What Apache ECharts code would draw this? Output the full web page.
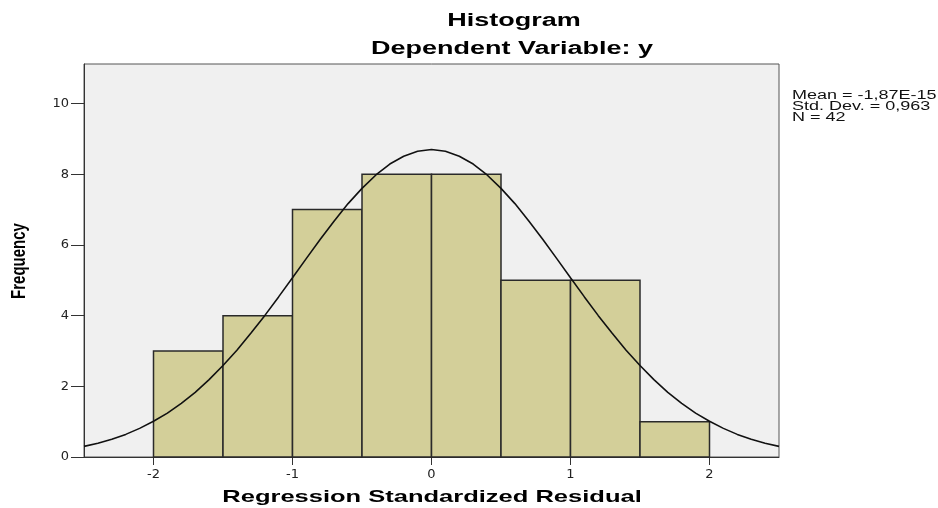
<!DOCTYPE html>
<html>
<head>
<meta charset="utf-8">
<script src="https://cdn.jsdelivr.net/npm/echarts@6/dist/echarts.min.js"></script>
<style>
html,body{margin:0;padding:0;background:#fff;}
#chart{width:938px;height:508px;}
</style>
</head>
<body>
<div id="chart"></div>
<script>
// Histogram bins: [start, end, frequency]
var binStarts = [-2.0, -1.5, -1.0, -0.5, 0.0, 0.5, 1.0, 1.5];
var binEnds   = [-1.5, -1.0, -0.5, 0.0, 0.5, 1.0, 1.5, 2.0];
var frequencies = [3, 4, 7, 8, 8, 5, 5, 1];

// Normal curve
var curveX = [-2.5, -2.4, -2.3, -2.2, -2.1, -2.0, -1.9, -1.8, -1.7, -1.6, -1.5, -1.4, -1.3,
              -1.2, -1.1, -1.0, -0.9, -0.8, -0.7, -0.6, -0.5, -0.4, -0.3, -0.2, -0.1, 0.0,
              0.1, 0.2, 0.3, 0.4, 0.5, 0.6, 0.7, 0.8, 0.9, 1.0, 1.1, 1.2, 1.3, 1.4, 1.5,
              1.6, 1.7, 1.8, 1.9, 2.0, 2.1, 2.2, 2.3, 2.4, 2.5];
var curveY = [0.30, 0.39, 0.50, 0.64, 0.81, 1.01, 1.24, 1.52, 1.83, 2.19, 2.59, 3.02, 3.50,
              4.00, 4.53, 5.07, 5.62, 6.16, 6.68, 7.17, 7.60, 7.98, 8.29, 8.51, 8.65, 8.70,
              8.65, 8.51, 8.29, 7.98, 7.60, 7.17, 6.68, 6.16, 5.62, 5.07, 4.53, 4.00, 3.50, 3.02, 2.59,
              2.19, 1.83, 1.52, 1.24, 1.01, 0.81, 0.64, 0.50, 0.39, 0.30];

var xTicks = [-2, -1, 0, 1, 2];
var yTicks = [0, 2, 4, 6, 8, 10];

var titleText = 'Histogram';
var subtitleText = 'Dependent Variable: y';
var xName = 'Regression Standardized Residual';
var yName = 'Frequency';
var statsLines = ['Mean = -1,87E-15', 'Std. Dev. = 0,963', 'N = 42'];

var bins = binStarts.map(function (s, i) { return [s, binEnds[i], frequencies[i]]; });
var curve = curveX.map(function (x, i) { return [x, curveY[i]]; });

var chart = echarts.init(document.getElementById('chart'), null, {renderer: 'canvas'});

var STRETCH = 1.5;
var graphics = [
  {type: 'text', x: 514, y: 21, scaleX: STRETCH, style: {text: titleText, font: 'bold 18px "Liberation Sans", Arial, sans-serif', fill: '#000', align: 'center', verticalAlign: 'middle'}},
  {type: 'text', x: 512, y: 49, scaleX: STRETCH, style: {text: subtitleText, font: 'bold 18px "Liberation Sans", Arial, sans-serif', fill: '#000', align: 'center', verticalAlign: 'middle'}},
  {type: 'text', x: 432, y: 497, scaleX: STRETCH, style: {text: xName, font: 'bold 17px "Liberation Sans", Arial, sans-serif', fill: '#000', align: 'center', verticalAlign: 'middle'}},
  {type: 'text', x: 20, y: 261, rotation: Math.PI / 2, scaleY: 1.3, style: {text: yName, font: 'bold 15px "Liberation Sans", Arial, sans-serif', fill: '#000', align: 'center', verticalAlign: 'middle'}}
];
statsLines.forEach(function (t, i) {
  graphics.push({type: 'text', x: 792, y: 96 + i * 11, scaleX: STRETCH,
    style: {text: t, font: '12px "Liberation Sans", Arial, sans-serif', fill: '#111', align: 'left', verticalAlign: 'middle'}});
});

var option = {
  animation: false,
  backgroundColor: '#ffffff',
  grid: {
    left: 84, right: 159, top: 64, bottom: 51,
    show: true, backgroundColor: '#f0f0f0', borderColor: '#555', borderWidth: 1
  },
  xAxis: {
    type: 'value', min: -2.5, max: 2.5,
    splitLine: {show: false},
    axisLine: {show: true, onZero: false, lineStyle: {color: '#333', width: 1}},
    axisTick: {show: true, length: 8, customValues: xTicks, lineStyle: {color: '#333'}},
    axisLabel: {show: true, customValues: xTicks, margin: 11, color: '#222', fontSize: 13, fontFamily: '"DejaVu Sans", sans-serif'}
  },
  yAxis: {
    type: 'value', min: 0, max: 11.12,
    splitLine: {show: false},
    axisLine: {show: true, onZero: false, lineStyle: {color: '#333', width: 1}},
    axisTick: {show: true, length: 13, customValues: yTicks, lineStyle: {color: '#333'}},
    axisLabel: {show: true, customValues: yTicks, margin: 15, color: '#222', fontSize: 13, fontFamily: '"DejaVu Sans", sans-serif'}
  },
  graphic: graphics,
  series: [
    {
      type: 'custom',
      data: bins,
      encode: {x: [0, 1], y: 2},
      renderItem: function (params, api) {
        var p0 = api.coord([api.value(0), api.value(2)]);
        var p1 = api.coord([api.value(1), 0]);
        return {
          type: 'rect',
          shape: {x: p0[0], y: p0[1], width: p1[0] - p0[0], height: p1[1] - p0[1]},
          style: {fill: '#d3cf99', stroke: '#2a2a2a', lineWidth: 1.5}
        };
      },
      z: 2
    },
    {
      type: 'line',
      data: curve,
      smooth: false,
      showSymbol: false,
      symbol: 'none',
      lineStyle: {color: '#111', width: 1.6},
      z: 3
    }
  ]
};
chart.setOption(option);
</script>
</body>
</html>
